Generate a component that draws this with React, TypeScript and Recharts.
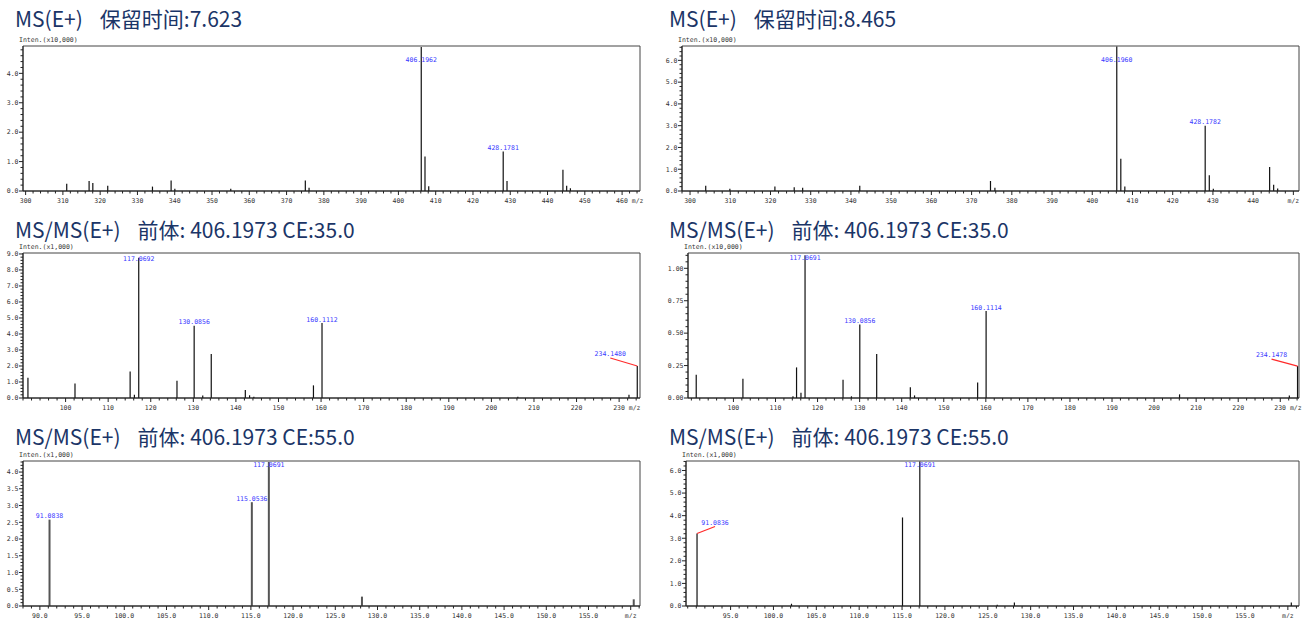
import React from 'react';
import { ComposedChart, Bar, XAxis, YAxis, LabelList, ReferenceArea } from 'recharts';

// MS(E+) RT 7.623, intensity x10,000
const ms1aMz = [311.1, 317.1, 318.1, 322.1, 334.1, 339.1, 340.1, 355.1, 375.1, 376.1, 406.1962, 407.2, 408.2, 428.1781, 429.2, 444.2, 445.2, 446.2];
const ms1aInt = [0.25, 0.34, 0.27, 0.18, 0.15, 0.36, 0.08, 0.08, 0.36, 0.11, 4.9, 1.17, 0.16, 1.34, 0.34, 0.72, 0.18, 0.09];
const ms1aLabels = ['406.1962', '428.1781'];

// MS(E+) RT 8.465, intensity x10,000
const ms1bMz = [304.0, 310.0, 321.2, 326.0, 328.1, 342.3, 374.8, 375.9, 406.196, 407.2, 408.2, 428.1782, 429.2, 430.2, 444.2, 445.2, 446.2];
const ms1bInt = [0.24, 0.1, 0.21, 0.17, 0.15, 0.24, 0.46, 0.15, 6.64, 1.48, 0.21, 3.0, 0.72, 0.1, 1.1, 0.29, 0.12];
const ms1bLabels = ['406.1960', '428.1782'];

// MS/MS CE 35, intensity x1,000
const ms2aMz = [91.05, 102.1, 115.05, 116.05, 117.0692, 126.05, 130.0856, 132.1, 134.1, 142.1, 143.1, 144.1, 158.1, 160.1112, 206.1, 232.2, 234.148];
const ms2aInt = [1.26, 0.91, 1.66, 0.21, 8.76, 1.08, 4.51, 0.15, 2.75, 0.5, 0.17, 0.08, 0.79, 4.68, 0.08, 0.21, 2.0];
const ms2aLabels = ['117.0692', '130.0856', '160.1112', '234.1480'];

// MS/MS CE 35, intensity x10,000
const ms2bMz = [91.2, 102.3, 114.2, 115.05, 116.1, 117.0691, 126.1, 128.1, 130.0856, 134.1, 142.1, 143.1, 158.1, 160.1114, 206.1, 232.2, 234.1478];
const ms2bInt = [0.18, 0.149, 0.013, 0.236, 0.04, 1.1, 0.14, 0.013, 0.567, 0.34, 0.082, 0.02, 0.12, 0.67, 0.028, 0.02, 0.246];
const ms2bLabels = ['117.0691', '130.0856', '160.1114', '234.1478'];

// MS/MS CE 55, intensity x1,000
const ms3aMz = [91.0838, 115.0536, 117.0691, 128.1, 160.3];
const ms3aInt = [2.58, 3.1, 4.3, 0.28, 0.2];
const ms3aLabels = ['91.0838', '115.0536', '117.0691'];

// MS/MS CE 55, intensity x1,000
const ms3bMz = [91.0836, 102.1, 115.05, 117.0691, 126.1, 128.1, 160.4];
const ms3bInt = [3.21, 0.1, 3.92, 6.4, 0.06, 0.15, 0.15];
const ms3bLabels = ['91.0836', '117.0691'];

// tick labels
const xMs1aTicks = [300, 310, 320, 330, 340, 350, 360, 370, 380, 390, 400, 410, 420, 430, 440, 450, 460];
const xMs1aTickLabels = ['300', '310', '320', '330', '340', '350', '360', '370', '380', '390', '400', '410', '420', '430', '440', '450', '460 m/z'];
const xMs1bTicks = [300, 310, 320, 330, 340, 350, 360, 370, 380, 390, 400, 410, 420, 430, 440, 450];
const xMs1bTickLabels = ['300', '310', '320', '330', '340', '350', '360', '370', '380', '390', '400', '410', '420', '430', '440', 'm/z'];
const xMs2Ticks = [100, 110, 120, 130, 140, 150, 160, 170, 180, 190, 200, 210, 220, 230];
const xMs2TickLabels = ['100', '110', '120', '130', '140', '150', '160', '170', '180', '190', '200', '210', '220', '230 m/z'];
const xMs3aTicks = [90, 95, 100, 105, 110, 115, 120, 125, 130, 135, 140, 145, 150, 155, 160];
const xMs3aTickLabels = ['90.0', '95.0', '100.0', '105.0', '110.0', '115.0', '120.0', '125.0', '130.0', '135.0', '140.0', '145.0', '150.0', '155.0', 'm/z'];
const xMs3bTicks = [95, 100, 105, 110, 115, 120, 125, 130, 135, 140, 145, 150, 155, 160];
const xMs3bTickLabels = ['95.0', '100.0', '105.0', '110.0', '115.0', '120.0', '125.0', '130.0', '135.0', '140.0', '145.0', '150.0', '155.0', 'm/z'];

const y4Ticks = [0, 1, 2, 3, 4];
const y4TickLabels = ['0.0', '1.0', '2.0', '3.0', '4.0'];
const y6Ticks = [0, 1, 2, 3, 4, 5, 6];
const y6TickLabels = ['0.0', '1.0', '2.0', '3.0', '4.0', '5.0', '6.0'];
const y9Ticks = [0, 1, 2, 3, 4, 5, 6, 7, 8, 9];
const y9TickLabels = ['0.0', '1.0', '2.0', '3.0', '4.0', '5.0', '6.0', '7.0', '8.0', '9.0'];
const yQuarterTicks = [0, 0.25, 0.5, 0.75, 1.0];
const yQuarterTickLabels = ['0.00', '0.25', '0.50', '0.75', '1.00'];
const yHalfTicks = [0, 0.5, 1, 1.5, 2, 2.5, 3, 3.5, 4];
const yHalfTickLabels = ['0.0', '0.5', '1.0', '1.5', '2.0', '2.5', '3.0', '3.5', '4.0'];

// label placement for peaks drawn with a red leader line
const leaderOffsets: Record<string, [number, number]> = {
  '234.1480': [-27, -8],
  '234.1478': [-26, -7],
  '91.0836': [18, -7],
};

const TITLE_COLOR = '#1b3567';
const MONO = '"DejaVu Sans Mono", "Liberation Mono", monospace';
const PLOT_TOP = 16;
const PLOT_H = 145;

type PanelCfg = {
  left: number;
  top: number;
  yAxisWidth: number;
  marginRight: number;
  mz: number[];
  inten: number[];
  labels: string[];
  xDomain: [number, number];
  xTicks: number[];
  xTickLabels: string[];
  xMinor: number;
  yMax: number;
  yTicks: number[];
  yTickLabels: string[];
  yMinor: number;
  barColor: string;
  barSize: number;
  topInset: number;
};

const withMinor = (majors: number[], lo: number, hi: number, step: number) => {
  const out: number[] = [];
  const start = Math.ceil(lo / step) * step;
  for (let v = start; v <= hi + 1e-9; v += step) out.push(Math.round(v * 1000) / 1000);
  majors.forEach((m) => {
    if (!out.some((o) => Math.abs(o - m) < 1e-6) && m >= lo && m <= hi) out.push(m);
  });
  return out.sort((a, b) => a - b);
};

const makeXTick = (majors: number[], labels: string[]) => (props: any) => {
  const { x, y, payload } = props;
  const idx = majors.findIndex((m) => Math.abs(m - payload.value) < 1e-6);
  const major = idx >= 0;
  const label = major ? labels[idx] : '';
  const suffix = label.endsWith('m/z') && label !== 'm/z';
  return (
    <g>
      <line x1={x} y1={y} x2={x} y2={y + (major ? 4 : 2.5)} stroke="#222" strokeWidth={1} />
      {major && (
        <text
          x={suffix ? x - 6 : x}
          y={y + 11.5}
          textAnchor={suffix ? 'start' : 'middle'}
          fontSize={6.5}
          fontFamily={MONO}
          fill="#333"
        >
          {label}
        </text>
      )}
    </g>
  );
};

const makeYTick = (majors: number[], labels: string[]) => (props: any) => {
  const { x, y, payload } = props;
  const idx = majors.findIndex((m) => Math.abs(m - payload.value) < 1e-6);
  const major = idx >= 0;
  return (
    <g>
      <line x1={x} y1={y} x2={x - (major ? 4 : 2.5)} y2={y} stroke="#222" strokeWidth={1} />
      {major && (
        <text x={x - 4.5} y={y + 2.3} textAnchor="end" fontSize={6.5} fontFamily={MONO} fill="#333">
          {labels[idx]}
        </text>
      )}
    </g>
  );
};

const makePeakLabel = (inset: number) => (props: any) => {
  const { x, y, width, value } = props;
  if (!value) return null;
  const cx = Number(x) + Number(width) / 2;
  const top = Number(y);
  const lead = leaderOffsets[value];
  if (lead) {
    return (
      <g>
        <line x1={cx} y1={top} x2={cx + lead[0]} y2={top + lead[1]} stroke="#ff2a2a" strokeWidth={1.2} />
        <text x={cx + lead[0]} y={top + lead[1] - 2} textAnchor="middle" fontSize={6.5} fontFamily={MONO} fill="#3838ff">
          {value}
        </text>
      </g>
    );
  }
  let by = top - 1.5;
  if (by < PLOT_TOP + inset) by = PLOT_TOP + inset;
  return (
    <text x={cx} y={by} textAnchor="middle" fontSize={6.5} fontFamily={MONO} fill="#3838ff">
      {value}
    </text>
  );
};

const Panel = ({ cfg }: { cfg: PanelCfg }) => {
  const data = cfg.mz.map((m, i) => ({
    mz: m,
    inten: cfg.inten[i],
    label: cfg.labels.find((l) => Math.abs(Number(l) - m) < 0.01),
  }));
  const xTicks = withMinor(cfg.xTicks, cfg.xDomain[0], cfg.xDomain[1], cfg.xMinor);
  const yTicks = withMinor(cfg.yTicks, 0, cfg.yMax, cfg.yMinor);
  return (
    <div style={{ position: 'absolute', left: cfg.left, top: cfg.top }}>
      <ComposedChart
        width={653}
        height={PLOT_TOP + PLOT_H + 16}
        data={data}
        margin={{ top: PLOT_TOP, right: cfg.marginRight, bottom: 0, left: 0 }}
        style={{ overflow: 'visible' }}
      >
        <XAxis
          xAxisId="b"
          type="number"
          dataKey="mz"
          domain={cfg.xDomain}
          allowDataOverflow
          ticks={xTicks}
          interval={0}
          tick={makeXTick(cfg.xTicks, cfg.xTickLabels)}
          tickLine={false}
          tickSize={0}
          tickMargin={0}
          height={16}
          axisLine={{ stroke: '#222' }}
        />
        <YAxis
          yAxisId="l"
          type="number"
          domain={[0, cfg.yMax]}
          allowDataOverflow
          ticks={yTicks}
          interval={0}
          tick={makeYTick(cfg.yTicks, cfg.yTickLabels)}
          tickLine={false}
          tickSize={0}
          tickMargin={0}
          width={cfg.yAxisWidth}
          axisLine={{ stroke: '#222' }}
        />
        <ReferenceArea
          xAxisId="b"
          yAxisId="l"
          x1={cfg.xDomain[0]}
          x2={cfg.xDomain[1]}
          y1={0}
          y2={cfg.yMax}
          fill="none"
          fillOpacity={0}
          stroke="#444"
          strokeWidth={1}
          ifOverflow="visible"
        />
        <Bar
          xAxisId="b"
          yAxisId="l"
          dataKey="inten"
          barSize={cfg.barSize}
          fill={cfg.barColor}
          isAnimationActive={false}
        >
          <LabelList dataKey="label" content={makePeakLabel(cfg.topInset)} />
        </Bar>
      </ComposedChart>
    </div>
  );
};

const panels: PanelCfg[] = [
  {
    left: 0.5, top: 29.5, yAxisWidth: 22, marginRight: 14,
    mz: ms1aMz, inten: ms1aInt, labels: ms1aLabels,
    xDomain: [299.3, 464.8], xTicks: xMs1aTicks, xTickLabels: xMs1aTickLabels, xMinor: 2,
    yMax: 4.93, yTicks: y4Ticks, yTickLabels: y4TickLabels, yMinor: 0.2,
    barColor: '#111', barSize: 1.2, topInset: 15.5,
  },
  {
    left: 653.5, top: 29.5, yAxisWidth: 28, marginRight: 8,
    mz: ms1bMz, inten: ms1bInt, labels: ms1bLabels,
    xDomain: [298, 451.4], xTicks: xMs1bTicks, xTickLabels: xMs1bTickLabels, xMinor: 2,
    yMax: 6.66, yTicks: y6Ticks, yTickLabels: y6TickLabels, yMinor: 0.2,
    barColor: '#111', barSize: 1.2, topInset: 15.5,
  },
  {
    left: 0.5, top: 236.5, yAxisWidth: 22, marginRight: 14,
    mz: ms2aMz, inten: ms2aInt, labels: ms2aLabels,
    xDomain: [90.0, 234.9], xTicks: xMs2Ticks, xTickLabels: xMs2TickLabels, xMinor: 2,
    yMax: 9.06, yTicks: y9Ticks, yTickLabels: y9TickLabels, yMinor: 0.2,
    barColor: '#111', barSize: 1.2, topInset: 7.5,
  },
  {
    left: 653.5, top: 236.5, yAxisWidth: 34, marginRight: 8,
    mz: ms2bMz, inten: ms2bInt, labels: ms2bLabels,
    xDomain: [89.2, 234.45], xTicks: xMs2Ticks, xTickLabels: xMs2TickLabels, xMinor: 2,
    yMax: 1.118, yTicks: yQuarterTicks, yTickLabels: yQuarterTickLabels, yMinor: 0.05,
    barColor: '#111', barSize: 1.2, topInset: 7,
  },
  {
    left: 0.5, top: 444.5, yAxisWidth: 22, marginRight: 14,
    mz: ms3aMz, inten: ms3aInt, labels: ms3aLabels,
    xDomain: [88, 161.1], xTicks: xMs3aTicks, xTickLabels: xMs3aTickLabels, xMinor: 1,
    yMax: 4.33, yTicks: yHalfTicks, yTickLabels: yHalfTickLabels, yMinor: 0.1,
    barColor: '#555', barSize: 2, topInset: 5.5,
  },
  {
    left: 653.5, top: 444.5, yAxisWidth: 32, marginRight: 8,
    mz: ms3bMz, inten: ms3bInt, labels: ms3bLabels,
    xDomain: [89.8, 161.3], xTicks: xMs3bTicks, xTickLabels: xMs3bTickLabels, xMinor: 1,
    yMax: 6.42, yTicks: y6Ticks, yTickLabels: y6TickLabels, yMinor: 0.2,
    barColor: '#111', barSize: 1.2, topInset: 5.5,
  },
];

const titles = [
  { x: 15, y: 27, a: 'MS(E+)', b: '保留时间:7.623' },
  { x: 669, y: 27, a: 'MS(E+)', b: '保留时间:8.465' },
  { x: 15, y: 238, a: 'MS/MS(E+)', b: '前体: 406.1973 CE:35.0' },
  { x: 669, y: 238, a: 'MS/MS(E+)', b: '前体: 406.1973 CE:35.0' },
  { x: 15, y: 444.5, a: 'MS/MS(E+)', b: '前体: 406.1973 CE:55.0' },
  { x: 669, y: 444.5, a: 'MS/MS(E+)', b: '前体: 406.1973 CE:55.0' },
];

const scaleLabels = [
  { x: 19, y: 42, t: 'Inten.(x10,000)' },
  { x: 678, y: 42, t: 'Inten.(x10,000)' },
  { x: 19, y: 249, t: 'Inten.(x1,000)' },
  { x: 684, y: 249, t: 'Inten.(x10,000)' },
  { x: 19, y: 457, t: 'Inten.(x1,000)' },
  { x: 682, y: 457, t: 'Inten.(x1,000)' },
];

export default function App() {
  return (
    <div style={{ position: 'absolute', left: 0, top: 0, width: 1306, height: 618, background: '#fff', overflow: 'hidden' }}>
      <svg width={1306} height={618} style={{ position: 'absolute', left: 0, top: 0 }}>
        {titles.map((t, i) => (
          <text key={i} x={t.x} y={t.y} fontSize={21} fontFamily='"Noto Sans CJK SC", "Noto Sans", sans-serif' fill={TITLE_COLOR}>
            <tspan>{t.a}</tspan>
            <tspan dx={17}>{t.b}</tspan>
          </text>
        ))}
        {scaleLabels.map((s, i) => (
          <text key={i} x={s.x} y={s.y} fontSize={6.5} fontFamily={MONO} fill="#333">
            {s.t}
          </text>
        ))}
      </svg>
      {panels.map((p, i) => (
        <Panel key={i} cfg={p} />
      ))}
    </div>
  );
}
